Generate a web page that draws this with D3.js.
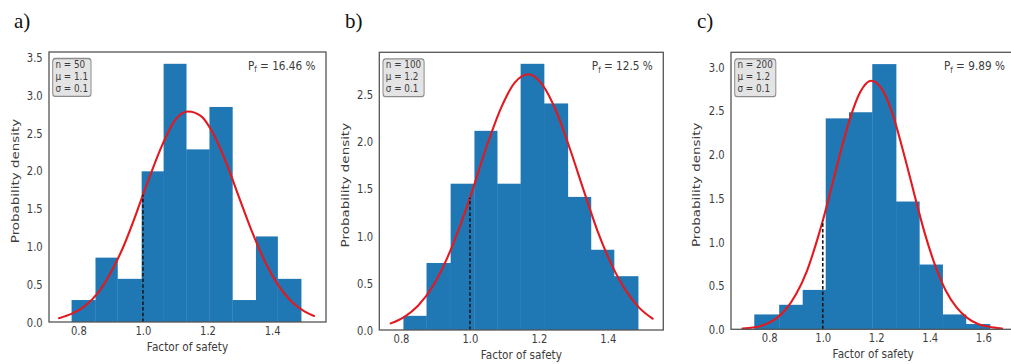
<!DOCTYPE html>
<html>
<head>
<meta charset="utf-8">
<script src="https://cdn.jsdelivr.net/npm/d3@7"></script>
<style>
  html, body { margin: 0; padding: 0; background: #ffffff; }
  svg { display: block; }
  text { font-family: "DejaVu Sans", sans-serif; fill: #3c3c3c; }
  .panel-label { font-family: "Liberation Serif", "DejaVu Serif", serif; fill: #111; }
</style>
</head>
<body>
<svg id="chart" width="1011" height="364"></svg>
<script>
// ---- Monte Carlo factor-of-safety histograms: three sample sizes ----

const panelLabels = ["a)", "b)", "c)"];
const sampleSizes = [50, 100, 200];
const meanLabels = ["1.1", "1.2", "1.2"];
const sigmaLabels = ["0.1", "0.1", "0.1"];
const failureProbs = ["16.46", "12.5", "9.89"];
const failureThreshold = 1.0;

// histogram bin edges and densities
const binEdgesA = [0.779, 0.853, 0.921, 0.996, 1.064, 1.134, 1.206, 1.277, 1.350, 1.417, 1.490];
const densityA = [0.29, 0.85, 0.57, 1.99, 3.41, 2.28, 2.84, 0.29, 1.13, 0.57];

const binEdgesB = [0.807, 0.874, 0.944, 1.013, 1.079, 1.147, 1.215, 1.284, 1.351, 1.418, 1.488];
const densityB = [0.15, 0.71, 1.55, 2.11, 1.55, 2.82, 2.40, 1.41, 0.85, 0.57];

const binEdgesC = [0.744, 0.837, 0.925, 1.011, 1.098, 1.185, 1.274, 1.361, 1.448, 1.535, 1.625];
const densityC = [0.17, 0.28, 0.45, 2.41, 2.48, 3.03, 1.46, 0.74, 0.17, 0.06];

// fitted normal density curves
const curveXA = [0.74, 0.78, 0.82, 0.86, 0.90, 0.94, 0.98, 1.00, 1.02, 1.06, 1.10, 1.14, 1.18, 1.22, 1.26, 1.30, 1.34, 1.38, 1.42, 1.46, 1.50, 1.53];
const curveYA = [0.05, 0.11, 0.21, 0.38, 0.65, 1.00, 1.44, 1.68, 1.91, 2.34, 2.67, 2.78, 2.72, 2.47, 2.08, 1.62, 1.17, 0.78, 0.48, 0.27, 0.14, 0.08];

const curveXB = [0.77, 0.81, 0.85, 0.89, 0.93, 0.97, 1.00, 1.05, 1.09, 1.13, 1.17, 1.21, 1.25, 1.29, 1.33, 1.37, 1.41, 1.45, 1.49, 1.53];
const curveYB = [0.07, 0.14, 0.26, 0.45, 0.73, 1.09, 1.40, 1.96, 2.35, 2.62, 2.71, 2.60, 2.32, 1.92, 1.48, 1.05, 0.70, 0.43, 0.24, 0.12];

const curveXC = [0.70, 0.74, 0.78, 0.82, 0.86, 0.90, 0.94, 0.98, 1.00, 1.02, 1.06, 1.10, 1.14, 1.18, 1.22, 1.26, 1.30, 1.34, 1.38, 1.42, 1.46, 1.50, 1.54, 1.58, 1.62, 1.67];
const curveYC = [0.01, 0.02, 0.05, 0.11, 0.22, 0.40, 0.66, 1.03, 1.24, 1.47, 1.95, 2.39, 2.71, 2.84, 2.75, 2.47, 2.04, 1.57, 1.11, 0.73, 0.44, 0.25, 0.13, 0.06, 0.03, 0.01];

// tick values
const xTicksA = [0.8, 1.0, 1.2, 1.4];
const yTicksA = [0.0, 0.5, 1.0, 1.5, 2.0, 2.5, 3.0, 3.5];
const xTicksB = [0.8, 1.0, 1.2, 1.4];
const yTicksB = [0.0, 0.5, 1.0, 1.5, 2.0, 2.5];
const xTicksC = [0.8, 1.0, 1.2, 1.4, 1.6];
const yTicksC = [0.0, 0.5, 1.0, 1.5, 2.0, 2.5, 3.0];

const xAxisTitle = "Factor of safety";
const yAxisTitle = "Probability density";

// ---- layout ----
const layouts = [
  { left: 49,    right: 326,    top: 52,   bottom: 322, xDomain: [0.709, 1.567], yDomain: [0, 3.566], labelX: 14,  ylabX: 19 },
  { left: 379.3, right: 663.3,  top: 52.3, bottom: 330, xDomain: [0.737, 1.561], yDomain: [0, 2.942], labelX: 345, ylabX: 349 },
  { left: 731,   right: 1015.4, top: 52.3, bottom: 329.3, xDomain: [0.657, 1.720], yDomain: [0, 3.165], labelX: 697, ylabX: 700 }
];

const panels = [
  { edges: binEdgesA, dens: densityA, cx: curveXA, cy: curveYA, xt: xTicksA, yt: yTicksA },
  { edges: binEdgesB, dens: densityB, cx: curveXB, cy: curveYB, xt: xTicksB, yt: yTicksB },
  { edges: binEdgesC, dens: densityC, cx: curveXC, cy: curveYC, xt: xTicksC, yt: yTicksC }
];

const STRETCH = 1.22;   // text is drawn slightly tall, as in the published figure
const BAR = "#1f77b4", CURVE = "#e3191f", FRAME = "#555555";
const fmt = d3.format(".1f");

const svg = d3.select("#chart");

// text drawn with a vertical stretch; rotated titles stretch along their length
function tallText(parent, x, y, rotate, k) {
  const s = k || STRETCH;
  const g = parent.append("g")
    .attr("transform", rotate
      ? `translate(${x},${y}) rotate(-90) scale(${s},1)`
      : `translate(${x},${y}) scale(1,${s})`);
  return g.append("text");
}

panels.forEach((p, i) => {
  const L = layouts[i];
  const x = d3.scaleLinear().domain(L.xDomain).range([L.left, L.right]);
  const y = d3.scaleLinear().domain(L.yDomain).range([L.bottom, L.top]);
  const g = svg.append("g");

  // histogram bars
  const bins = p.dens.map((d, j) => ({ x0: p.edges[j], x1: p.edges[j + 1], d }));
  g.selectAll("rect.bar").data(bins).join("rect")
    .attr("class", "bar")
    .attr("x", b => x(b.x0))
    .attr("width", b => x(b.x1) - x(b.x0) + 0.3)
    .attr("y", b => y(b.d))
    .attr("height", b => y(0) - y(b.d))
    .attr("fill", BAR);

  // fitted density curve
  const pts = p.cx.map((v, j) => [v, p.cy[j]]);
  g.append("path")
    .datum(pts)
    .attr("d", d3.line().x(d => x(d[0])).y(d => y(d[1])).curve(d3.curveMonotoneX))
    .attr("fill", "none")
    .attr("stroke", CURVE)
    .attr("stroke-width", 2.1)
    .attr("stroke-linecap", "round");

  // failure threshold line up to the curve
  const jThr = p.cx.indexOf(failureThreshold);
  const thrTop = p.cy[jThr];
  g.append("line")
    .attr("x1", x(failureThreshold)).attr("x2", x(failureThreshold))
    .attr("y1", y(0)).attr("y2", y(thrTop))
    .attr("stroke", "#101820")
    .attr("stroke-width", 1.6)
    .attr("stroke-dasharray", "3.5,2.2");

  // axes frame
  g.append("rect")
    .attr("x", L.left).attr("y", L.top)
    .attr("width", L.right - L.left).attr("height", L.bottom - L.top)
    .attr("fill", "none").attr("stroke", FRAME).attr("stroke-width", 1.3);

  // axes (labels only, no tick marks)
  const xAxis = d3.axisBottom(x).tickValues(p.xt).tickFormat(fmt).tickSize(0).tickPadding(0);
  const yAxis = d3.axisLeft(y).tickValues(p.yt).tickFormat(fmt).tickSize(0).tickPadding(0);
  const gx = g.append("g").attr("transform", `translate(0,${L.bottom})`).call(xAxis);
  const gy = g.append("g").attr("transform", `translate(${L.left},0)`).call(yAxis);
  gx.select(".domain").remove();
  gy.select(".domain").remove();

  gx.selectAll(".tick text").each(function () {
    const t = d3.select(this);
    const tr = d3.select(this.parentNode).attr("transform");
    const tx = +/translate\(([^,]+)/.exec(tr)[1];
    const s = t.text();
    t.remove();
    tallText(g, tx, L.bottom + 13, false)
      .attr("text-anchor", "middle").attr("font-size", 10).text(s);
  });
  gy.selectAll(".tick text").each(function () {
    const t = d3.select(this);
    const tr = d3.select(this.parentNode).attr("transform");
    const ty = +/translate\([^,]+,([^)]+)/.exec(tr)[1];
    const s = t.text();
    t.remove();
    tallText(g, L.left - 6.3, ty, false)
      .attr("text-anchor", "end").attr("dy", "0.36em").attr("font-size", 10).text(s);
  });

  // axis titles
  tallText(g, (L.left + L.right) / 2, L.bottom + 28.5, false)
    .attr("text-anchor", "middle").attr("font-size", 10.5).text(xAxisTitle);
  tallText(g, L.ylabX, (L.top + L.bottom) / 2 - 6, true, 1.28)
    .attr("text-anchor", "middle").attr("font-size", 10.5).text(yAxisTitle);

  // failure probability annotation
  const pf = tallText(g, Math.min(L.right, 1015.4) - 10.5, L.top + 18, false)
    .attr("text-anchor", "end").attr("font-size", 10.5);
  pf.append("tspan").text("P");
  pf.append("tspan").attr("font-size", 7).attr("dy", 2).text("f");
  pf.append("tspan").attr("dy", -2).text(` = ${failureProbs[i]} %`);

  // sample statistics box
  const bk = 1.28;
  const box = g.append("g")
    .attr("transform", `translate(${L.left + 3.7},${L.top + 6.5}) scale(1,${bk})`);
  const rect = box.append("rect");
  const lines = [`n = ${sampleSizes[i]}`, `\u03bc = ${meanLabels[i]}`, `\u03c3 = ${sigmaLabels[i]}`];
  const tg = box.append("g");
  lines.forEach((s, j) => {
    tg.append("text").attr("x", 2.8).attr("y", 7.4 + j * 9.2)
      .attr("font-size", 8.8).text(s);
  });
  const bb = tg.node().getBBox();
  rect.attr("x", 0).attr("y", 0)
    .attr("width", bb.width + 5.8).attr("height", 29.6)
    .attr("rx", 2.5).attr("ry", 2.5)
    .attr("fill", "#e4e4e4").attr("stroke", "#8c8c8c").attr("stroke-width", 1);

  // panel letter
  svg.append("text")
    .attr("class", "panel-label")
    .attr("x", L.labelX).attr("y", 28)
    .attr("font-size", 21)
    .text(panelLabels[i]);
});
</script>
</body>
</html>
